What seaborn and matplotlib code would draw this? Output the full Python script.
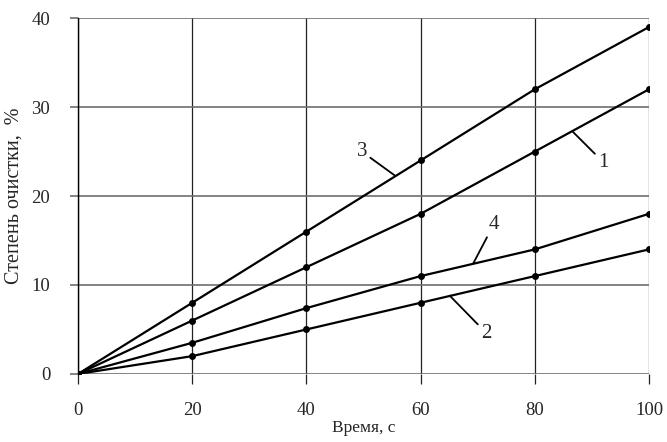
import pandas as pd
import seaborn as sns
import matplotlib.pyplot as plt

# Data
time_s = [0, 20, 40, 60, 80, 100]
curve_1 = [0, 6, 12, 18, 25, 32]
curve_2 = [0, 2, 5, 8, 11, 14]
curve_3 = [0, 8, 16, 24, 32, 39]
curve_4 = [0, 3.5, 7.4, 11, 14, 18]
curve_names = ["1", "2", "3", "4"]

df = pd.DataFrame({
    "t": time_s,
    "1": curve_1,
    "2": curve_2,
    "3": curve_3,
    "4": curve_4,
})
df = df.melt(id_vars="t", var_name="curve", value_name="val")

sns.set_theme(style="white")
plt.rcParams['font.family'] = ['Liberation Serif', 'DejaVu Serif']

fig = plt.figure(figsize=(6.67, 4.42), dpi=100)
ax = fig.add_axes([0.117, 0.154, 0.856, 0.805])

sns.lineplot(
    data=df, x="t", y="val", hue="curve", hue_order=curve_names,
    palette=["black"] * 4, marker="o", markersize=5, markeredgewidth=0,
    linewidth=1.6, legend=False, ax=ax, zorder=3
)

ax.set_xlim(0, 100)
ax.set_ylim(0, 40)
ax.set_xticks(time_s)
ax.set_yticks([0, 10, 20, 30, 40])

# grid: horizontal gray, vertical dark
ax.grid(axis="y", color="#6e6e6e", linewidth=1.2)
ax.grid(axis="x", color="#222222", linewidth=0.9)
ax.set_axisbelow(True)

for side in ["top", "right", "bottom"]:
    ax.spines[side].set_visible(False)
ax.spines["left"].set_color("black")
ax.spines["left"].set_linewidth(1.0)

ax.tick_params(axis="y", direction="out", length=6, width=1.2, color="#6e6e6e",
               pad=14, labelsize=13.5, left=True)
ax.tick_params(axis="x", direction="out", length=7, width=0.9, color="#222222",
               pad=13, labelsize=13.5, bottom=True)

ax.set_xlabel("Время, с", fontsize=12.5, labelpad=1)
ax.set_ylabel("Степень очистки,  %", fontsize=14.5, labelpad=6)

# curve labels with leader lines
labels = [
    ("3", (49.7, 25.0), (55.5, 22.3)),
    ("1", (92.0, 23.8), (86.7, 27.2)),
    ("4", (72.8, 16.8), (69.2, 12.4)),
    ("2", (71.5, 4.6), (65.1, 8.8)),
]
for txt, xytext, xy in labels:
    ax.annotate(txt, xy=xy, xytext=xytext, fontsize=15, ha="center", va="center",
                arrowprops=dict(arrowstyle="-", color="black", lw=1.3,
                                shrinkA=0, shrinkB=0))

fig.savefig("out.png", dpi=100)
